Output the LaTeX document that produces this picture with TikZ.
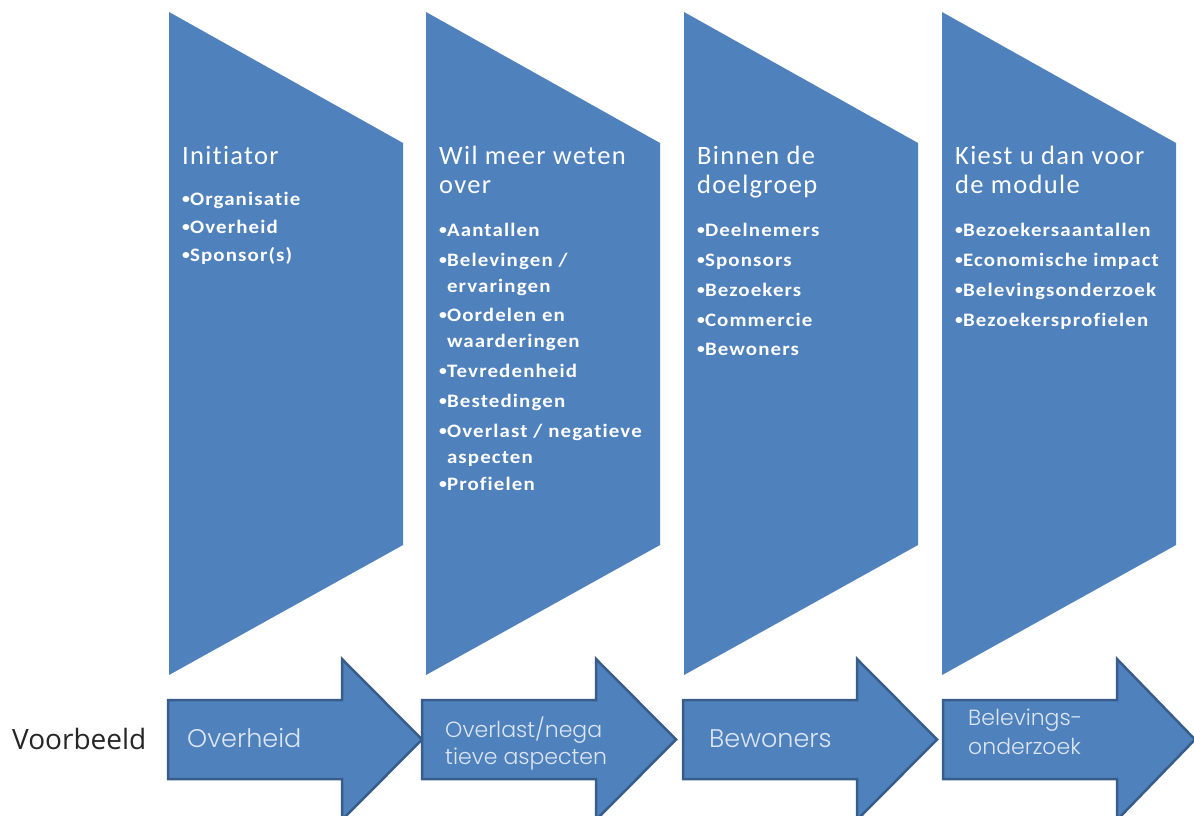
\documentclass[tikz,border=0pt]{standalone}
\usepackage{fontspec}
\setmainfont{Carlito}
\newfontfamily\headfont{Carlito}[LetterSpace=5,Ligatures=NoCommon]
\newfontfamily\bulfont{Carlito}[LetterSpace=6,FakeStretch=1.1,Ligatures=NoCommon]
\IfFontExistsTF{Poppins Light}{\newfontfamily\arrfont{Poppins Light}}{\newfontfamily\arrfont{Poppins}}
\newfontfamily\vbfont{Open Sans}
\definecolor{chev}{HTML}{4F81BD}
\definecolor{arrline}{HTML}{385D8A}
\definecolor{arrtext}{HTML}{DCE6F2}
\definecolor{vbtext}{HTML}{262626}
\tikzset{
  chevshape/.style={fill=chev, draw=none},
  arrshape/.style={fill=chev, draw=arrline, line width=2.5pt, line join=miter},
  headtxt/.style={anchor=base west, inner sep=0pt, text=white, font=\headfont\fontsize{26.5}{29}\selectfont},
  bultxt/.style={anchor=base west, inner sep=0pt, text=white, font=\bulfont\bfseries\fontsize{19}{21}\selectfont},
  arrbig/.style={anchor=base west, inner sep=0pt, text=arrtext, font=\arrfont\fontsize{25.5}{28}\selectfont},
  arrsmall/.style={anchor=base west, inner sep=0pt, text=arrtext, font=\arrfont\fontsize{22}{25}\selectfont},
  vbtxt/.style={anchor=base west, inner sep=0pt, text=vbtext, font=\vbfont\fontsize{28}{30}\selectfont}
}
\newcommand{\mybul}{\raisebox{0.07em}{\scalebox{0.75}{\textbullet}}}
\newcommand{\bitem}[4]{\node[bultxt] (#1) at (#2,#3) {\mybul#4};}
\newcommand{\bcont}[4]{\node[bultxt] (#1) at (#2,#3) {\phantom{\mybul}#4};}
\begin{document}
\begin{tikzpicture}[x=1pt,y=-1pt]
\useasboundingbox (0,0) rectangle (1194,816);
\clip (0,0) rectangle (1194,816);
\fill[white] (0,0) rectangle (1194,816);
% chevrons
\path[chevshape] (169,12) -- (403,143) -- (403,545) -- (169,675) -- cycle;
\path[chevshape] (426,12) -- (660,143) -- (660,545) -- (426,675) -- cycle;
\path[chevshape] (684,12) -- (918,143) -- (918,545) -- (684,675) -- cycle;
\path[chevshape] (942,12) -- (1176,143) -- (1176,545) -- (942,675) -- cycle;
% arrows
\draw[arrshape] (168,700) -- (342,700) -- (342,659) -- (422,739.5) -- (342,820) -- (342,779) -- (168,779) -- cycle;
\draw[arrshape] (422,700) -- (596,700) -- (596,659) -- (676,739.5) -- (596,820) -- (596,779) -- (422,779) -- cycle;
\draw[arrshape] (683,700) -- (857,700) -- (857,659) -- (937,739.5) -- (857,820) -- (857,779) -- (683,779) -- cycle;
\draw[arrshape] (943,700) -- (1117,700) -- (1117,659) -- (1195,739.5) -- (1117,820) -- (1117,779) -- (943,779) -- cycle;
% column 1
\node[headtxt] (h1) at (182,164) {Initiator};
\bitem{c1a}{182}{205}{Organisatie}
\bitem{c1b}{182}{233}{Overheid}
\bitem{c1c}{182}{261}{Sponsor(s)}
% column 2
\node[headtxt] (h2a) at (439,164) {Wil meer weten};
\node[headtxt] (h2b) at (439,193) {over};
\bitem{c2a}{439}{236}{Aantallen}
\bitem{c2b}{439}{266}{Belevingen /}
\bcont{c2c}{439}{292}{ervaringen}
\bitem{c2d}{439}{321}{Oordelen en}
\bcont{c2e}{439}{347}{waarderingen}
\bitem{c2f}{439}{377}{Tevredenheid}
\bitem{c2g}{439}{407}{Bestedingen}
\bitem{c2h}{439}{437}{Overlast / negatieve}
\bcont{c2i}{439}{463}{aspecten}
\bitem{c2j}{439}{490}{Profielen}
% column 3
\node[headtxt] (h3a) at (697,164) {Binnen de};
\node[headtxt] (h3b) at (697,193) {doelgroep};
\bitem{c3a}{697}{236}{Deelnemers}
\bitem{c3b}{697}{266}{Sponsors}
\bitem{c3c}{697}{296}{Bezoekers}
\bitem{c3d}{697}{326}{Commercie}
\bitem{c3e}{697}{355}{Bewoners}
% column 4
\node[headtxt] (h4a) at (955,164) {Kiest u dan voor};
\node[headtxt] (h4b) at (955,193) {de module};
\bitem{c4a}{955}{236}{Bezoekersaantallen}
\bitem{c4b}{955}{266}{Economische impact}
\bitem{c4c}{955}{296}{Belevingsonderzoek}
\bitem{c4d}{955}{326}{Bezoekersprofielen}
% bottom row
\node[vbtxt] (vb) at (12,749) {Voorbeeld};
\node[arrbig] (a1) at (187,747) {Overheid};
\node[arrsmall] (a2a) at (445,737) {Overlast/nega};
\node[arrsmall] (a2b) at (445,764) {tieve aspecten};
\node[arrbig] (a3) at (709,747) {Bewoners};
\node[arrsmall] (a4a) at (968,725) {Belevings-};
\node[arrsmall] (a4b) at (968,754) {onderzoek};
\end{tikzpicture}
\end{document}
